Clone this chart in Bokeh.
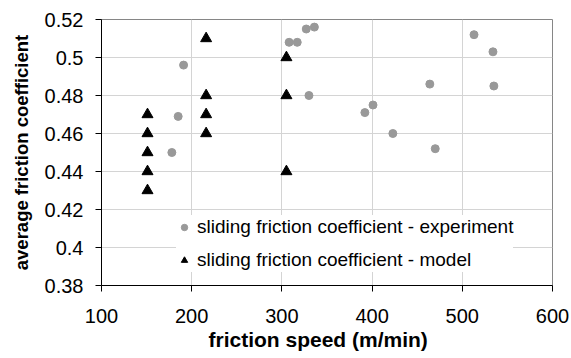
from bokeh.plotting import figure
from bokeh.models import Range1d, FixedTicker, NumeralTickFormatter, Legend, LegendItem, Title
from bokeh.embed import file_html
from bokeh.resources import INLINE

# Measured sliding friction coefficient vs. friction speed
exp_speed = [178, 185, 191, 308, 317, 327, 336, 330, 392, 401, 423, 464, 470, 513, 534, 535]
exp_coef = [0.450, 0.469, 0.496, 0.508, 0.508, 0.515, 0.516, 0.480,
            0.471, 0.475, 0.460, 0.486, 0.452, 0.512, 0.503, 0.485]

# Model predictions at three friction speeds
model_speed = [151, 151, 151, 151, 151, 216, 216, 216, 216, 305, 305, 305]
model_coef = [0.43, 0.44, 0.45, 0.46, 0.47, 0.46, 0.47, 0.48, 0.51, 0.44, 0.48, 0.50]

x_ticks = [100, 200, 300, 400, 500, 600]
y_ticks = [0.38, 0.40, 0.42, 0.44, 0.46, 0.48, 0.50, 0.52]

FONT = "Liberation Sans"

p = figure(width=571, height=358, output_backend="svg", toolbar_location=None,
           x_range=Range1d(100, 600), y_range=Range1d(0.38, 0.52),
           min_border_left=101, min_border_right=19, min_border_top=19, min_border_bottom=73,
           background_fill_color="white", border_fill_color="white")

p.outline_line_color = "#868686"
p.outline_line_width = 1

p.xgrid.ticker = FixedTicker(ticks=x_ticks)
p.ygrid.ticker = FixedTicker(ticks=y_ticks)
p.grid.grid_line_color = "#d4d4d4"
p.grid.grid_line_width = 1

for ax in (p.xaxis[0], p.yaxis[0]):
    ax.axis_line_color = "black"
    ax.major_tick_line_color = "black"
    ax.major_tick_out = 6
    ax.major_tick_in = 0
    ax.minor_tick_line_color = None
    ax.major_label_text_font = FONT
    ax.major_label_text_font_size = "20px"
    ax.major_label_text_color = "black"

p.xaxis.ticker = FixedTicker(ticks=x_ticks)
p.yaxis.ticker = FixedTicker(ticks=y_ticks)
p.yaxis.formatter = NumeralTickFormatter(format="0.[00]")
p.yaxis.major_label_standoff = 12
p.xaxis.major_label_standoff = 17

p.yaxis.axis_label = "average friction coefficient"
p.yaxis.axis_label_text_font = FONT
p.yaxis.axis_label_text_font_size = "18.5px"
p.yaxis.axis_label_text_font_style = "bold"
p.yaxis.axis_label_text_color = "black"
p.yaxis.axis_label_standoff = 10

xlabel = Title(text="friction speed (m/min)", align="left", offset=107,
               text_font=FONT, text_font_size="21px", text_font_style="bold",
               text_color="black", standoff=0)
p.add_layout(xlabel, "below")

r_exp = p.scatter(exp_speed, exp_coef, marker="circle", size=8,
                  fill_color="#999999", line_color="#999999")
r_mod = p.scatter(model_speed, model_coef, marker="triangle", size=11,
                  fill_color="black", line_color="black")

legend = Legend(items=[
    LegendItem(label="sliding friction coefficient - experiment", renderers=[r_exp]),
    LegendItem(label="sliding friction coefficient - model", renderers=[r_mod]),
], location=(75, 13))
legend.border_line_color = None
legend.background_fill_color = "white"
legend.background_fill_alpha = 1.0
legend.padding = 6
legend.margin = 0
legend.glyph_width = 16
legend.glyph_height = 24
legend.label_height = 24
legend.label_standoff = 5
legend.spacing = 9
legend.label_text_font = FONT
legend.label_text_font_size = "19px"
legend.label_text_color = "black"
p.add_layout(legend, "center")

open("out.html", "w").write(file_html(p, INLINE))
